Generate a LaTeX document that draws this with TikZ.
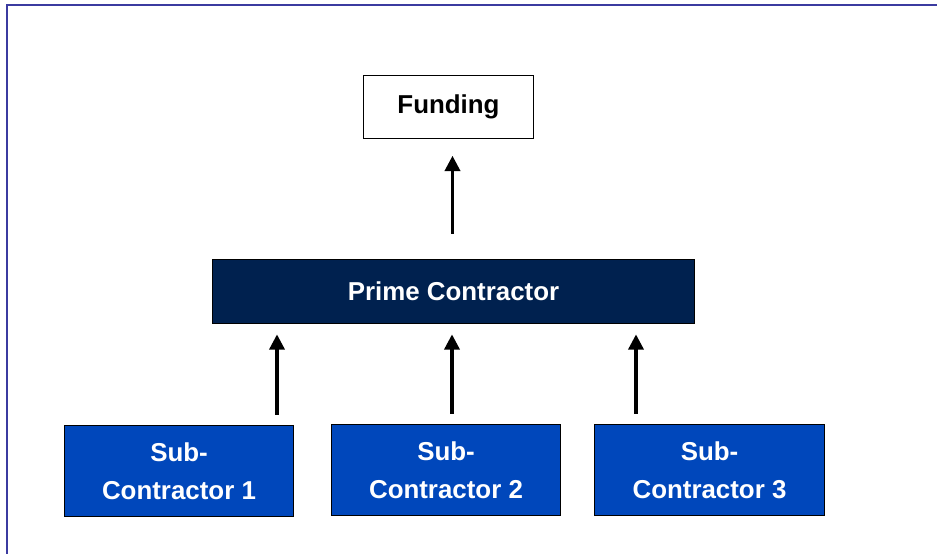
\documentclass[tikz,border=0pt]{standalone}
\usepackage{fontspec}
\setmainfont{Liberation Sans}
\usepackage{xcolor}
\usetikzlibrary{arrows.meta, positioning, calc}

\definecolor{framecol}{HTML}{3B3BA0}
\definecolor{primecol}{HTML}{00214F}
\definecolor{subcol}{HTML}{0047BB}

\begin{document}
\begin{tikzpicture}[x=0.85pt, y=-0.85pt,
    box/.style={draw=black, line width=1pt, inner sep=0pt, align=center,
                font=\fontsize{22}{32}\selectfont\bfseries},
    fundbox/.style={box, fill=white, minimum width=145pt, minimum height=53pt},
    primebox/.style={box, fill=primecol, text=white, minimum width=410pt, minimum height=55pt},
    subbox/.style={box, fill=subcol, text=white, minimum width=195pt, minimum height=78pt},
    feed/.style={-{Triangle[width=13pt,length=13pt]}, line width=2.6pt}]
\useasboundingbox (0,0) rectangle (937,554);

% frame (top and left edge)
\draw[framecol, line width=1.7pt] (6.5,554) -- (6.5,5) -- (937,5);

\node[fundbox]  (fund)  at (448.5,107)  {Funding};
\node[primebox] (prime) at (453.5,291.5) {Prime Contractor};

\node[subbox] (sub1) at (179,471)   {Sub-\\Contractor 1};
\node[subbox] (sub2) at (446,470)   {Sub-\\Contractor 2};
\node[subbox] (sub3) at (709.5,470) {Sub-\\Contractor 3};

% arrow columns
\coordinate (c0) at (452.5,0);
\coordinate (c1) at (277,0);
\coordinate (c2) at (452,0);
\coordinate (c3) at (636,0);

\draw[feed, shorten <=21pt, shorten >=14.5pt] (prime.north -| c0) -- (fund.south -| c0);
\draw[feed, shorten <=8.5pt, shorten >=8.5pt] (sub1.north -| c1) -- (prime.south -| c1);
\draw[feed, shorten <=8.5pt, shorten >=8.5pt] (sub2.north -| c2) -- (prime.south -| c2);
\draw[feed, shorten <=8.5pt, shorten >=8.5pt] (sub3.north -| c3) -- (prime.south -| c3);
\end{tikzpicture}
\end{document}
